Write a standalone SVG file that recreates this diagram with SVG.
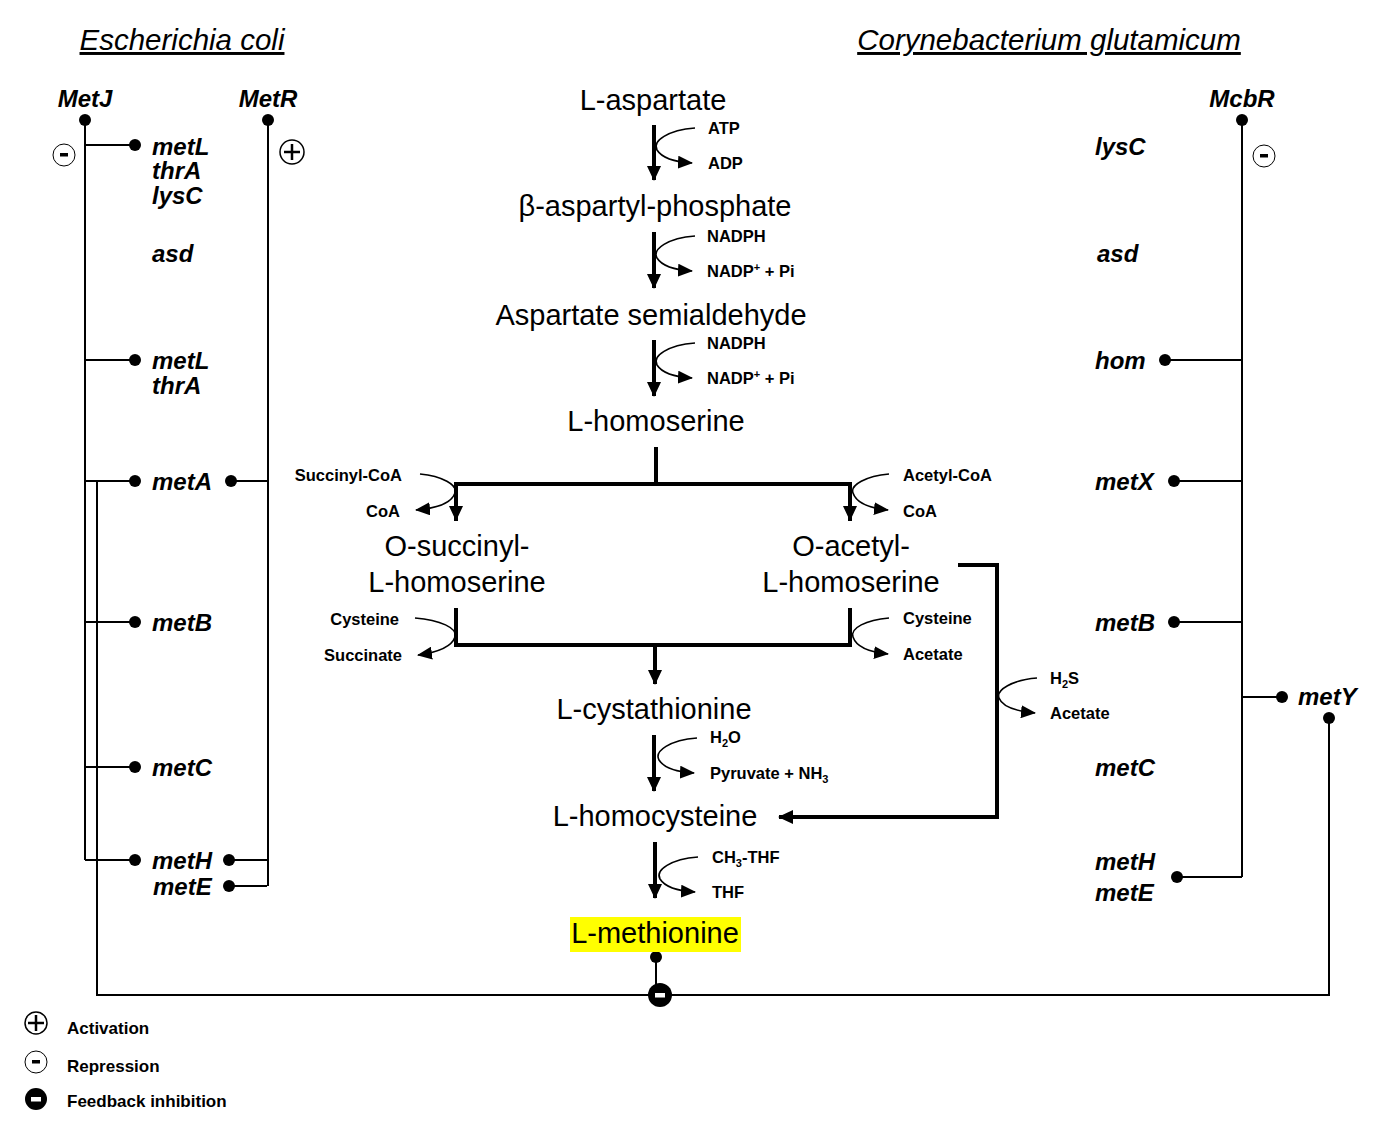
<svg xmlns="http://www.w3.org/2000/svg" width="1388" height="1121" viewBox="0 0 1388 1121">
<style>
.t{font-family:"Liberation Sans",Arial,sans-serif;fill:#000}
.title{font-size:29.5px;font-style:italic;text-decoration:underline}
.met{font-size:29px}
.gene{font-size:24px;font-weight:bold;font-style:italic}
.sm{font-size:16.5px;font-weight:bold}
.lg{font-size:17px;font-weight:bold}
.thin{stroke:#000;stroke-width:2;fill:none}
.thick{stroke:#000;stroke-width:4;fill:none}
.curve{stroke:#000;stroke-width:1.6;fill:none}
.dot{fill:#000}
</style>
<defs>
<marker id="big" markerUnits="userSpaceOnUse" markerWidth="16" markerHeight="16" viewBox="0 0 16 16" refX="14" refY="8" orient="auto">
<path d="M0,1 L15,8 L0,15 Z" fill="#000"/>
</marker>
<marker id="small" markerUnits="userSpaceOnUse" markerWidth="15" markerHeight="13" viewBox="0 0 15 13" refX="14" refY="6.5" orient="auto">
<path d="M0,0 L15,6.5 L0,13 Z" fill="#000"/>
</marker>
</defs>
<rect width="1388" height="1121" fill="#fff"/>

<g id="titles">
<text class="t title" x="182" y="50" text-anchor="middle">Escherichia coli</text>
<text class="t title" x="1049" y="50" text-anchor="middle">Corynebacterium glutamicum</text>
</g>

<g id="connectors">
<line class="thick" x1="654" y1="125" x2="654" y2="180" marker-end="url(#big)"/>
<path class="curve" d="M695,128 C668,130 652,141 657,150 C662,158 675,162 692,163" marker-end="url(#small)"/>
<line class="thick" x1="654" y1="232" x2="654" y2="288" marker-end="url(#big)"/>
<path class="curve" d="M695,236 C668,238 652,249 657,258 C662,266 675,270 692,271" marker-end="url(#small)"/>
<line class="thick" x1="654" y1="340" x2="654" y2="396" marker-end="url(#big)"/>
<path class="curve" d="M695,343 C668,345 652,356 657,365 C662,373 675,377 692,378" marker-end="url(#small)"/>
<line class="thick" x1="656" y1="447" x2="656" y2="484"/>
<polyline class="thick" points="456,521 456,484 850,484 850,521"/>
<path d="M449,506 L456,521 L463,506 Z" fill="#000"/>
<path d="M843,506 L850,521 L857,506 Z" fill="#000"/>
<path class="curve" d="M420,474 C442,476 458,485 455,493 C452,502 440,508 416,510" marker-end="url(#small)"/>
<path class="curve" d="M889,474 C866,476 850,485 853,493 C856,502 868,508 888,510" marker-end="url(#small)"/>
<polyline class="thick" points="456,608 456,645 850,645 850,608"/>
<line class="thick" x1="655" y1="645" x2="655" y2="684" marker-end="url(#big)"/>
<path class="curve" d="M415,618 C440,620 458,628 455,637 C452,646 440,652 418,655" marker-end="url(#small)"/>
<path class="curve" d="M889,618 C866,620 850,628 853,637 C856,646 868,652 888,654" marker-end="url(#small)"/>
<polyline class="thick" points="958,565 997,565 997,817 779,817" marker-end="url(#big)"/>
<path class="curve" d="M1037,678 C1012,680 996,690 999,698 C1002,706 1014,711 1035,713" marker-end="url(#small)"/>
<line class="thick" x1="654" y1="735" x2="654" y2="791" marker-end="url(#big)"/>
<path class="curve" d="M697,738 C670,740 654,751 659,760 C664,768 677,772 694,773" marker-end="url(#small)"/>
<line class="thick" x1="655" y1="842" x2="655" y2="898" marker-end="url(#big)"/>
<path class="curve" d="M698,857 C671,859 655,870 660,879 C665,887 678,891 695,892" marker-end="url(#small)"/>

<line class="thin" x1="85" y1="120" x2="85" y2="860"/>
<line class="thin" x1="85" y1="145" x2="135" y2="145"/>
<line class="thin" x1="85" y1="360" x2="135" y2="360"/>
<line class="thin" x1="85" y1="481" x2="135" y2="481"/>
<line class="thin" x1="85" y1="622" x2="135" y2="622"/>
<line class="thin" x1="85" y1="767" x2="135" y2="767"/>
<line class="thin" x1="85" y1="860" x2="135" y2="860"/>
<line class="thin" x1="268" y1="120" x2="268" y2="886"/>
<line class="thin" x1="231" y1="481" x2="268" y2="481"/>
<line class="thin" x1="229" y1="860" x2="268" y2="860"/>
<line class="thin" x1="229" y1="886" x2="267" y2="886"/>
<polyline class="thin" points="97,481 97,995 1329,995 1329,718"/>
<line class="thin" x1="656" y1="957" x2="656" y2="990"/>
<line class="thin" x1="1242" y1="120" x2="1242" y2="877"/>
<line class="thin" x1="1165" y1="360" x2="1242" y2="360"/>
<line class="thin" x1="1174" y1="481" x2="1242" y2="481"/>
<line class="thin" x1="1174" y1="622" x2="1242" y2="622"/>
<line class="thin" x1="1242" y1="697" x2="1282" y2="697"/>
<line class="thin" x1="1177" y1="877" x2="1242" y2="877"/>
</g>

<g id="dots">
<circle class="dot" cx="85" cy="120" r="6"/>
<circle class="dot" cx="268" cy="120" r="6"/>
<circle class="dot" cx="135" cy="145" r="6"/>
<circle class="dot" cx="135" cy="360" r="6"/>
<circle class="dot" cx="135" cy="481" r="6"/>
<circle class="dot" cx="135" cy="622" r="6"/>
<circle class="dot" cx="135" cy="767" r="6"/>
<circle class="dot" cx="135" cy="860" r="6"/>
<circle class="dot" cx="231" cy="481" r="6"/>
<circle class="dot" cx="229" cy="860" r="6"/>
<circle class="dot" cx="229" cy="886" r="6"/>
<circle class="dot" cx="1242" cy="120" r="6"/>
<circle class="dot" cx="1165" cy="360" r="6"/>
<circle class="dot" cx="1174" cy="481" r="6"/>
<circle class="dot" cx="1174" cy="622" r="6"/>
<circle class="dot" cx="1282" cy="697" r="6"/>
<circle class="dot" cx="1329" cy="718" r="6"/>
<circle class="dot" cx="1177" cy="877" r="6"/>
<circle class="dot" cx="656" cy="957" r="6"/>
</g>

<g id="symbols">
<g id="rep-metj"><circle cx="64" cy="155" r="11" fill="#fff" stroke="#000" stroke-width="1"/><rect x="60" y="153" width="8" height="3.5" fill="#000"/></g>
<g id="act-metr"><circle cx="292" cy="152" r="12" fill="#fff" stroke="#000" stroke-width="1.5"/><line x1="284" y1="152" x2="300" y2="152" stroke="#000" stroke-width="2.5"/><line x1="292" y1="144" x2="292" y2="160" stroke="#000" stroke-width="2.5"/></g>
<g id="rep-mcbr"><circle cx="1264" cy="156" r="11" fill="#fff" stroke="#000" stroke-width="1"/><rect x="1260" y="154" width="8" height="3.5" fill="#000"/></g>
<g id="feedback"><circle cx="660" cy="995" r="12" fill="#000"/><rect x="655" y="993" width="10" height="4.5" fill="#fff"/></g>
</g>

<g id="regulators">
<text class="t gene" x="85" y="107" text-anchor="middle">MetJ</text>
<text class="t gene" x="268" y="107" text-anchor="middle">MetR</text>
<text class="t gene" x="1242" y="107" text-anchor="middle">McbR</text>
</g>

<g id="ecoli-genes">
<text class="t gene" x="152" y="155">metL</text>
<text class="t gene" x="152" y="179">thrA</text>
<text class="t gene" x="152" y="204">lysC</text>
<text class="t gene" x="152" y="262">asd</text>
<text class="t gene" x="152" y="369">metL</text>
<text class="t gene" x="152" y="394">thrA</text>
<text class="t gene" x="152" y="490">metA</text>
<text class="t gene" x="152" y="631">metB</text>
<text class="t gene" x="152" y="776">metC</text>
<text class="t gene" x="152" y="869">metH</text>
<text class="t gene" x="153" y="895">metE</text>
</g>

<g id="cglu-genes">
<text class="t gene" x="1095" y="155">lysC</text>
<text class="t gene" x="1097" y="262">asd</text>
<text class="t gene" x="1095" y="369">hom</text>
<text class="t gene" x="1095" y="490">metX</text>
<text class="t gene" x="1095" y="631">metB</text>
<text class="t gene" x="1298" y="705">metY</text>
<text class="t gene" x="1095" y="776">metC</text>
<text class="t gene" x="1095" y="870">metH</text>
<text class="t gene" x="1095" y="901">metE</text>
</g>

<g id="metabolites">
<g id="n-asp"><text class="t met" x="653" y="110" text-anchor="middle">L-aspartate</text></g>
<g id="n-bap"><text class="t met" x="655" y="216" text-anchor="middle">β-aspartyl-phosphate</text></g>
<g id="n-asa"><text class="t met" x="651" y="325" text-anchor="middle">Aspartate semialdehyde</text></g>
<g id="n-hom"><text class="t met" x="656" y="431" text-anchor="middle">L-homoserine</text></g>
<g id="n-osh"><text class="t met" x="457" y="556" text-anchor="middle">O-succinyl-</text><text class="t met" x="457" y="592" text-anchor="middle">L-homoserine</text></g>
<g id="n-oah"><text class="t met" x="851" y="556" text-anchor="middle">O-acetyl-</text><text class="t met" x="851" y="592" text-anchor="middle">L-homoserine</text></g>
<g id="n-cys"><text class="t met" x="654" y="719" text-anchor="middle">L-cystathionine</text></g>
<g id="n-hcy"><text class="t met" x="655" y="826" text-anchor="middle">L-homocysteine</text></g>
<g id="n-met"><rect x="570" y="917" width="171" height="35" fill="#ffff00"/><text class="t met" x="655" y="943" text-anchor="middle">L-methionine</text></g>
</g>

<g id="cosubstrates">
<text class="t sm" x="708" y="134">ATP</text>
<text class="t sm" x="708" y="169">ADP</text>
<text class="t sm" x="707" y="242">NADPH</text>
<text class="t sm" x="707" y="277">NADP<tspan font-size="11" dy="-6">+</tspan><tspan dy="6"> + Pi</tspan></text>
<text class="t sm" x="707" y="349">NADPH</text>
<text class="t sm" x="707" y="384">NADP<tspan font-size="11" dy="-6">+</tspan><tspan dy="6"> + Pi</tspan></text>
<text class="t sm" x="402" y="481" text-anchor="end">Succinyl-CoA</text>
<text class="t sm" x="400" y="517" text-anchor="end">CoA</text>
<text class="t sm" x="903" y="481">Acetyl-CoA</text>
<text class="t sm" x="903" y="517">CoA</text>
<text class="t sm" x="399" y="625" text-anchor="end">Cysteine</text>
<text class="t sm" x="402" y="661" text-anchor="end">Succinate</text>
<text class="t sm" x="903" y="624">Cysteine</text>
<text class="t sm" x="903" y="660">Acetate</text>
<text class="t sm" x="1050" y="684">H<tspan font-size="11" dy="4">2</tspan><tspan dy="-4">S</tspan></text>
<text class="t sm" x="1050" y="719">Acetate</text>
<text class="t sm" x="710" y="743">H<tspan font-size="11" dy="4">2</tspan><tspan dy="-4">O</tspan></text>
<text class="t sm" x="710" y="779">Pyruvate + NH<tspan font-size="11" dy="4">3</tspan></text>
<text class="t sm" x="712" y="863">CH<tspan font-size="11" dy="4">3</tspan><tspan dy="-4">-THF</tspan></text>
<text class="t sm" x="712" y="898">THF</text>
</g>

<g id="legend">
<circle cx="36" cy="1023" r="11" fill="#fff" stroke="#000" stroke-width="1.5"/><line x1="28" y1="1023" x2="44" y2="1023" stroke="#000" stroke-width="2.5"/><line x1="36" y1="1015" x2="36" y2="1031" stroke="#000" stroke-width="2.5"/>
<text class="t lg" x="67" y="1034">Activation</text>
<circle cx="36" cy="1062" r="11" fill="#fff" stroke="#000" stroke-width="1"/><rect x="32" y="1060" width="8" height="3.5" fill="#000"/>
<text class="t lg" x="67" y="1072">Repression</text>
<circle cx="36" cy="1099" r="11" fill="#000"/><rect x="31" y="1097" width="10" height="4.5" fill="#fff"/>
<text class="t lg" x="67" y="1107">Feedback inhibition</text>
</g>
</svg>
